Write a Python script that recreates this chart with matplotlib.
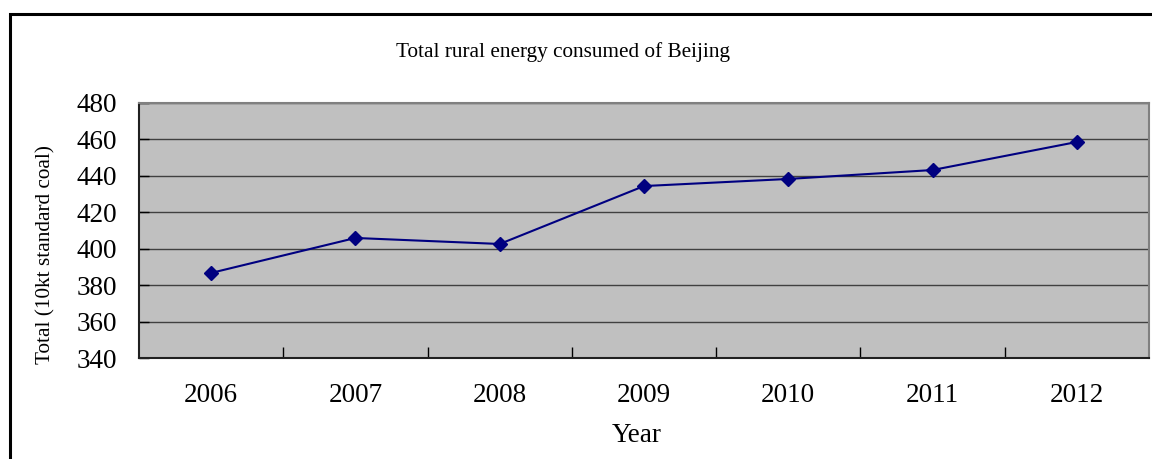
import matplotlib
matplotlib.use("Agg")
import matplotlib.pyplot as plt
from matplotlib.patches import Rectangle

years = ["2006", "2007", "2008", "2009", "2010", "2011", "2012"]
totals = [386.7, 405.9, 402.6, 434.4, 438.3, 443.2, 458.6]
y_ticks = [340, 360, 380, 400, 420, 440, 460, 480]

W, H = 1152, 459
fig = plt.figure(figsize=(W / 100, H / 100), dpi=100)
fig.patch.set_facecolor("white")

# chart frame
fig.patches.append(Rectangle((10 / W, -0.1), 1.2, 1 - 14 / H + 0.1,
                             transform=fig.transFigure, facecolor="none",
                             edgecolor="black", linewidth=2.2))

ax = fig.add_axes([139 / W, 1 - 358 / H, (1149 - 139) / W, (358 - 103) / H])
ax.set_facecolor("#C0C0C0")

x = list(range(len(years)))
ax.plot(x, totals, color="#000080", linewidth=1.5, marker="D",
        markersize=7.5, markerfacecolor="#000080", markeredgecolor="#000080",
        zorder=3)

tick_font = dict(family="Liberation Serif", fontsize=19.5)
ax.set_xlim(-0.5, len(years) - 0.5)
ax.set_ylim(340, 480)
ax.set_yticks(y_ticks)
ax.set_yticklabels([str(v) for v in y_ticks], **tick_font)
ax.set_xticks([i + 0.5 for i in range(len(years) - 1)])
ax.set_xticklabels([])
ax.set_xticks(x, minor=True)
ax.set_xticklabels(years, minor=True, **tick_font)
ax.tick_params(axis="x", which="minor", length=0, pad=18)
ax.tick_params(axis="x", which="major", direction="in", length=8, width=1, color="black")
ax.tick_params(axis="y", direction="in", length=7, width=1, color="black", pad=16)

ax.yaxis.grid(True, color="#404040", linewidth=1)
ax.set_axisbelow(True)
for s in ("left", "bottom"):
    ax.spines[s].set_color("#202020")
    ax.spines[s].set_linewidth(1.5)
for s in ("top", "right"):
    ax.spines[s].set_color("#808080")
    ax.spines[s].set_linewidth(1.5)

fig.text(563 / W, 1 - 52 / H, "Total rural energy consumed of Beijing",
         family="Liberation Serif", fontsize=15.3, ha="center", va="center")
fig.text(637 / W, 1 - 435 / H, "Year", family="Liberation Serif",
         fontsize=19.5, ha="center", va="center")
fig.text(46 / W, 1 - 255 / H, "Total (10kt standard coal)",
         family="Liberation Serif", fontsize=15.3, rotation=90,
         ha="center", va="center")

fig.savefig("out.png", dpi=100)
